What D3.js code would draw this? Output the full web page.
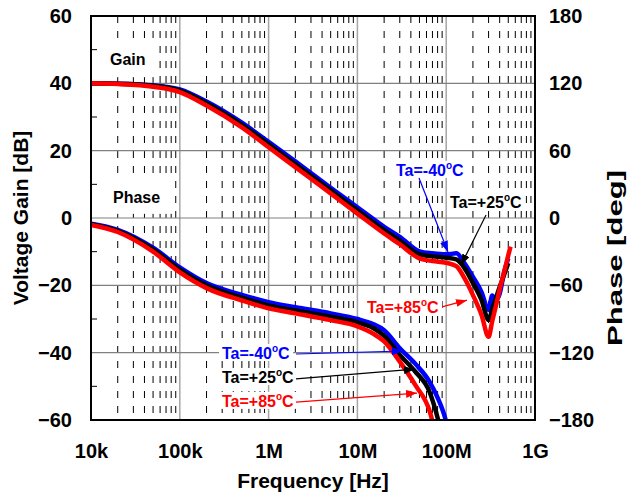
<!DOCTYPE html>
<html>
<head>
<meta charset="utf-8">
<script src="https://cdn.jsdelivr.net/npm/d3@7"></script>
<style>
  body { margin: 0; background: #fff; }
  svg { font-family: "Liberation Sans", Arial, sans-serif; font-weight: bold; }
</style>
</head>
<body>
<svg class="container"></svg>
<script>
// gain curves (dB) vs frequency (Hz)
const freqGain = [1e4, 2e4, 5e4, 1e5, 2e5, 5e5, 1e6, 2e6, 5e6, 1e7, 2e7, 3e7, 5e7, 7e7, 1e8, 1.3e8, 1.6e8, 2e8, 2.5e8, 3e8, 3.3e8, 3.6e8, 4e8, 4.5e8, 5e8, 5.3e8];
const gainM40 = [40, 39.9, 39.4, 38.2, 34.6, 28.3, 22.6, 16.8, 9.0, 3.2, -2.6, -5.6, -9.9, -10.5, -10.8, -10.5, -13.4, -17.5, -22.0, -27.3, -23.0, -24.5, -22.5, -16.0, -12.0, null];
const gain25 = [40, 39.9, 39.3, 37.9, 34.1, 27.7, 21.9, 16.0, 8.2, 2.3, -3.6, -6.7, -10.8, -11.4, -11.8, -12.3, -14.8, -19.3, -24.4, -30.3, -27.0, -24.1, -20.5, -16.8, -13.4, null];
const gain85 = [40, 39.8, 39.0, 37.4, 33.4, 26.9, 21.0, 15.1, 7.3, 1.3, -4.6, -7.8, -12.0, -12.8, -13.3, -14.3, -17.8, -22.9, -28.8, -35.3, -30.6, -26.5, -21.2, -16.0, -11.1, -8.5];

// phase curves (deg)
const freqPhase = [1e4, 2e4, 5e4, 1e5, 2e5, 5e5, 1e6, 2e6, 5e6, 1e7, 1.5e7, 2e7, 3e7, 4.5e7, 6.5e7, 8e7, 9e7, 1e8, 1.1e8];
const phaseM40 = [-5, -10.5, -26.5, -44, -58, -68.5, -75, -79.5, -85, -90, -94.5, -100, -116, -130, -146, -160, -170, -182, -200];
const phase25 = [-5.6, -11.5, -28, -46, -60, -71, -78, -82.5, -88, -93, -98, -105, -122, -137, -155, -178, -195, null, null];
const phase85 = [-6.2, -12.5, -30, -48.5, -62.5, -73.5, -80.5, -85, -91, -96.5, -103, -110, -128, -149, -172, -200, null, null, null];

const tempNames = ["-40", "+25", "+85"];
const tempColors = ["#0000ff", "#000000", "#ff0000"];

// annotations: [freq, value]
const gainLabelPos = [[2.72e7, 12.5], [1.104e8, 3.0], [1.283e7, -28.2]];
const gainArrowFrom = [[4.94e7, 11.9], [2.81e8, 0.9], [8.97e7, -26.4]];
const gainArrowTo = [[1.048e8, -10.1], [1.468e8, -14.0], [1.715e8, -24.4]];
const phaseLabelPos = [[2.99e5, -125.7], [2.99e5, -147], [2.99e5, -168.3]];
const phaseArrowFrom = [[2.035e6, -121.2], [2.035e6, -143.4], [2.035e6, -164.1]];
const phaseArrowTo = [[3.26e7, -118.5], [4.45e7, -134.7], [4.69e7, -156]];

const freqTicks = [1e4, 1e5, 1e6, 1e7, 1e8, 1e9];
const freqLabels = ["10k", "100k", "1M", "10M", "100M", "1G"];
const gainTicks = [-60, -40, -20, 0, 20, 40, 60];
const gainMinorTicks = [-50, -30, -10, 10, 30, 50];
const phaseTicks = [-180, -120, -60, 0, 60, 120, 180];

const width = 639;
const height = 498;
const pLeft = 91, pRight = 535, pTop = 16, pBottom = 420;

const svg = d3.select(".container").attr("width", width).attr("height", height);

const xScale = d3.scaleLog().domain([1e4, 1e9]).range([pLeft, pRight]);
const yGain = d3.scaleLinear().domain([-60, 60]).range([pBottom, pTop]);
const yPhase = d3.scaleLinear().domain([-180, 180]).range([pBottom, pTop]);

// minor dashed verticals
const minorFreqs = [];
for (let d = 1e4; d < 1e9; d *= 10) {
  for (let k = 2; k <= 9; k++) minorFreqs.push(d * k);
}
svg.append("g")
  .selectAll("line")
  .data(minorFreqs)
  .enter()
  .append("line")
  .attr("x1", (d) => xScale(d)).attr("x2", (d) => xScale(d))
  .attr("y1", pTop).attr("y2", pBottom)
  .attr("stroke", "#000").attr("stroke-width", 1)
  .attr("stroke-dasharray", "7,8");

// decade lines
svg.append("g")
  .selectAll("line")
  .data(freqTicks.slice(1, -1))
  .enter()
  .append("line")
  .attr("x1", (d) => xScale(d)).attr("x2", (d) => xScale(d))
  .attr("y1", pTop).attr("y2", pBottom)
  .attr("stroke", "#a6a6a6").attr("stroke-width", 1.5);

// horizontal grid
svg.append("g")
  .selectAll("line")
  .data(gainTicks.slice(1, -1))
  .enter()
  .append("line")
  .attr("x1", pLeft).attr("x2", pRight)
  .attr("y1", (d) => yGain(d)).attr("y2", (d) => yGain(d))
  .attr("stroke", "#808080").attr("stroke-width", 1.2);

// minor ticks on left axis
svg.append("g")
  .selectAll("line")
  .data(gainMinorTicks)
  .enter()
  .append("line")
  .attr("x1", pLeft).attr("x2", pLeft + 6)
  .attr("y1", (d) => yGain(d)).attr("y2", (d) => yGain(d))
  .attr("stroke", "#000").attr("stroke-width", 1);

// white-boxed text
function boxedText(x, y, txt, size, padX, padY) {
  const g = svg.append("g");
  const t = g.append("text").attr("x", x).attr("y", y)
    .attr("fill", "#000").attr("font-size", size).text(txt);
  const b = t.node().getBBox();
  const x0 = Math.max(pLeft + 1, b.x - padX);
  g.insert("rect", "text")
    .attr("x", x0).attr("y", b.y - padY)
    .attr("width", b.x + b.width + padX - x0).attr("height", b.height + 2 * padY)
    .attr("fill", "#fff");
}

boxedText(xScale(1.637e4), yGain(45.4), "Gain", 16, 12, 9);
boxedText(xScale(1.77e4), yGain(4.5), "Phase", 16, 13, 8);

// curves
svg.append("clipPath").attr("id", "clip")
  .append("rect").attr("x", pLeft).attr("y", pTop)
  .attr("width", pRight - pLeft).attr("height", pBottom - pTop);

const plot = svg.append("g").attr("clip-path", "url(#clip)");

const gainLine = d3.line()
  .defined((d) => d[1] !== null)
  .x((d) => xScale(d[0])).y((d) => yGain(d[1]))
  .curve(d3.curveMonotoneX);
const phaseLine = d3.line()
  .defined((d) => d[1] !== null)
  .x((d) => xScale(d[0])).y((d) => yPhase(d[1]))
  .curve(d3.curveMonotoneX);

const gainSeries = [gainM40, gain25, gain85];
const phaseSeries = [phaseM40, phase25, phase85];

gainSeries.forEach((s, i) => {
  plot.append("path")
    .datum(freqGain.map((f, j) => [f, s[j]]))
    .attr("d", gainLine)
    .attr("fill", "none").attr("stroke", tempColors[i])
    .attr("stroke-width", 4.5).attr("stroke-linejoin", "round");
});
phaseSeries.forEach((s, i) => {
  plot.append("path")
    .datum(freqPhase.map((f, j) => [f, s[j]]))
    .attr("d", phaseLine)
    .attr("fill", "none").attr("stroke", tempColors[i])
    .attr("stroke-width", 4.5).attr("stroke-linejoin", "round");
});

// frame
svg.append("rect")
  .attr("x", pLeft).attr("y", pTop)
  .attr("width", pRight - pLeft).attr("height", pBottom - pTop)
  .attr("fill", "none").attr("stroke", "#000").attr("stroke-width", 2);

// arrow markers
const defs = svg.append("defs");
tempColors.forEach((c, i) => {
  defs.append("marker")
    .attr("id", "arr" + i)
    .attr("markerUnits", "userSpaceOnUse")
    .attr("markerWidth", 11).attr("markerHeight", 8)
    .attr("refX", 11).attr("refY", 4)
    .attr("orient", "auto")
    .append("path").attr("d", "M0,0 L11,4 L0,8 Z").attr("fill", c);
});

// temperature labels
function tempLabel(x, y, i) {
  const g = svg.append("g");
  const t = g.append("text").attr("x", x).attr("y", y)
    .attr("fill", tempColors[i]).attr("font-size", 16);
  t.append("tspan").text("Ta=" + tempNames[i]);
  t.append("tspan").attr("font-size", 10).attr("dy", -7).text("o");
  t.append("tspan").attr("dy", 7).text("C");
  const b = t.node().getBBox();
  g.insert("rect", "text")
    .attr("x", b.x - 3).attr("y", b.y + 1)
    .attr("width", b.width + 6).attr("height", b.height - 2)
    .attr("fill", "#fff");
}

tempNames.forEach((n, i) => {
  tempLabel(xScale(gainLabelPos[i][0]), yGain(gainLabelPos[i][1]), i);
  tempLabel(xScale(phaseLabelPos[i][0]), yPhase(phaseLabelPos[i][1]), i);

  svg.append("line")
    .attr("x1", xScale(gainArrowFrom[i][0])).attr("y1", yGain(gainArrowFrom[i][1]))
    .attr("x2", xScale(gainArrowTo[i][0])).attr("y2", yGain(gainArrowTo[i][1]))
    .attr("stroke", tempColors[i]).attr("stroke-width", 1.2)
    .attr("marker-end", "url(#arr" + i + ")");
  svg.append("line")
    .attr("x1", xScale(phaseArrowFrom[i][0])).attr("y1", yPhase(phaseArrowFrom[i][1]))
    .attr("x2", xScale(phaseArrowTo[i][0])).attr("y2", yPhase(phaseArrowTo[i][1]))
    .attr("stroke", tempColors[i]).attr("stroke-width", 1.2)
    .attr("marker-end", "url(#arr" + i + ")");
});

// axes
const styleAxis = (g) => {
  g.select(".domain").remove();
  g.selectAll(".tick line").remove();
  g.attr("font-family", null).attr("font-size", 20);
  g.selectAll("text").attr("fill", "#000");
};

svg.append("g")
  .attr("transform", `translate(${pLeft},0)`)
  .call(d3.axisLeft(yGain).tickValues(gainTicks).tickSize(0).tickPadding(19))
  .call(styleAxis);

svg.append("g")
  .attr("transform", `translate(${pRight},0)`)
  .call(d3.axisRight(yPhase).tickValues(phaseTicks).tickSize(0).tickPadding(14))
  .call(styleAxis);

svg.append("g")
  .attr("transform", `translate(0,${pBottom})`)
  .call(d3.axisBottom(xScale).tickValues(freqTicks).tickSize(0).tickPadding(24)
    .tickFormat((d, i) => freqLabels[i]))
  .call(styleAxis);

// axis titles
svg.append("text")
  .attr("transform", "translate(28,218) rotate(-90)")
  .attr("text-anchor", "middle").attr("font-size", 21)
  .text("Voltage Gain [dB]");

svg.append("text")
  .attr("transform", "translate(622,258) rotate(-90)")
  .attr("text-anchor", "middle").attr("font-size", 21)
  .attr("textLength", 176).attr("lengthAdjust", "spacingAndGlyphs")
  .text("Phase [deg]");

svg.append("text")
  .attr("x", (pLeft + pRight) / 2).attr("y", 488)
  .attr("text-anchor", "middle").attr("font-size", 21)
  .text("Frequency [Hz]");
</script>
</body>
</html>
